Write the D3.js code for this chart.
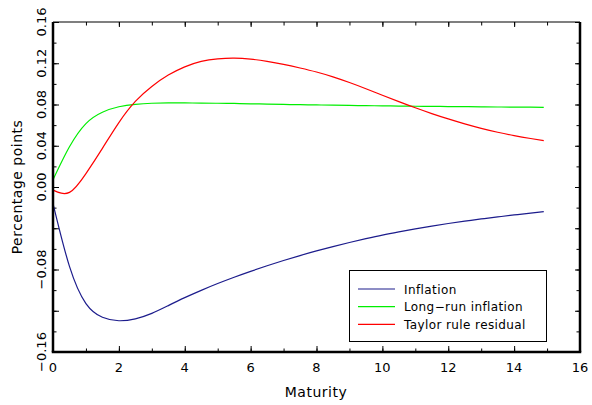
<!DOCTYPE html>
<html>
<head>
<meta charset="utf-8">
<script src="https://cdn.jsdelivr.net/npm/d3@7"></script>
<style>
  body { margin: 0; background: #fff; }
  svg { display: block; }
  text { font-family: "DejaVu Sans", sans-serif; fill: #000; }
</style>
</head>
<body>
<svg id="chart" width="592" height="405"></svg>
<script>
// data (maturity in years, values in percentage points)
const maturity = [0, 0.5, 1, 1.5, 2, 2.5, 3, 3.5, 4, 4.5, 5, 5.5, 6, 6.5, 7, 7.5, 8, 8.5, 9, 9.5,
  10, 10.5, 11, 11.5, 12, 12.5, 13, 13.5, 14, 14.5, 14.9];
const inflation = [-0.016, -0.077, -0.113, -0.1263, -0.1297, -0.1278, -0.1225, -0.1150, -0.1073, -0.1002,
  -0.0936, -0.0875, -0.0818, -0.0764, -0.0713, -0.0665, -0.0620, -0.0578, -0.0538, -0.0501,
  -0.0466, -0.0435, -0.0406, -0.0379, -0.0354, -0.0331, -0.0310, -0.0290, -0.0271, -0.0253, -0.0239];
const longRun = [0.007, 0.039, 0.0615, 0.0725, 0.0778, 0.0802, 0.0812, 0.0815, 0.0815, 0.0814,
  0.0812, 0.081, 0.0807, 0.0804, 0.0801, 0.0798, 0.0796, 0.0793, 0.0791, 0.0789,
  0.0787, 0.0785, 0.0783, 0.0782, 0.078, 0.0779, 0.0777, 0.0776, 0.0775, 0.0774, 0.0773];
const taylor = [-0.003, -0.0052, 0.013, 0.0375, 0.0625, 0.083, 0.0975, 0.1085, 0.1165, 0.1218,
  0.1243, 0.125, 0.124, 0.1218, 0.1189, 0.1154, 0.1115, 0.1068, 0.1013, 0.0953,
  0.089, 0.0828, 0.0768, 0.0712, 0.066, 0.0612, 0.0569, 0.0531, 0.0498, 0.047, 0.045];

const seriesNames = ["Inflation", "Long\u2212run inflation", "Taylor rule residual"];
const seriesColors = ["#1c1c8c", "#00ee00", "#ff0000"];
const xTicks = [0, 2, 4, 6, 8, 10, 12, 14, 16];
const yLabelTicks = [-0.16, -0.08, 0, 0.04, 0.08, 0.12, 0.16];

const svg = d3.select("#chart");
const L = 53, R = 580, T = 22, B = 352;

const x = d3.scaleLinear().domain([0, 16]).range([L, R]);
const y = d3.scaleLinear().domain([-0.16, 0.16]).range([B, T]);

// ticks (inward, on all four sides)
const xMinor = d3.range(0, 16.01, 1);
const yMinor = d3.range(-0.16, 0.1601, 0.02);
const yMajor = d3.range(-0.16, 0.1601, 0.04);

svg.append("g").attr("transform", `translate(0,${B})`)
  .call(d3.axisBottom(x).tickValues(xMinor).tickSize(-3.5).tickFormat(""));
svg.append("g").attr("transform", `translate(0,${B})`)
  .call(d3.axisBottom(x).tickValues(xTicks).tickSize(-6).tickFormat(""));
svg.append("g").attr("transform", `translate(0,${T})`)
  .call(d3.axisTop(x).tickValues(xMinor).tickSize(-3.5).tickFormat(""));
svg.append("g").attr("transform", `translate(0,${T})`)
  .call(d3.axisTop(x).tickValues(xTicks).tickSize(-5).tickFormat(""));
svg.append("g").attr("transform", `translate(${L},0)`)
  .call(d3.axisLeft(y).tickValues(yMinor).tickSize(-3.5).tickFormat(""));
svg.append("g").attr("transform", `translate(${L},0)`)
  .call(d3.axisLeft(y).tickValues(yMajor).tickSize(-6).tickFormat(""));
svg.append("g").attr("transform", `translate(${R},0)`)
  .call(d3.axisRight(y).tickValues(yMinor).tickSize(-3.5).tickFormat(""));
svg.append("g").attr("transform", `translate(${R},0)`)
  .call(d3.axisRight(y).tickValues(yMajor).tickSize(-5).tickFormat(""));
svg.selectAll(".domain").remove();
svg.selectAll(".tick line").attr("stroke", "#000").attr("stroke-width", 1);

// tick labels
svg.append("g").selectAll("text").data(xTicks).join("text")
  .attr("x", d => x(d)).attr("y", 372)
  .attr("text-anchor", "middle").attr("font-size", 13)
  .text(d => d);

const fmt = d3.format(".2f");
svg.append("g").selectAll("text").data(yLabelTicks).join("text")
  .attr("transform", d => `translate(46,${y(d)}) rotate(-90)`)
  .attr("text-anchor", "middle").attr("font-size", 13)
  .text(d => fmt(d));

svg.append("text").attr("x", 316).attr("y", 397)
  .attr("text-anchor", "middle").attr("font-size", 14)
  .attr("letter-spacing", 0.5).text("Maturity");
svg.append("text").attr("transform", `translate(22,${(T + B) / 2}) rotate(-90)`)
  .attr("text-anchor", "middle").attr("font-size", 14)
  .attr("letter-spacing", 0.5).text("Percentage points");

// curves
const line = d3.line().x(d => x(d[0])).y(d => y(d[1])).curve(d3.curveNatural);
[inflation, longRun, taylor].forEach((vals, i) => {
  svg.append("path")
    .datum(maturity.map((m, j) => [m, vals[j]]))
    .attr("fill", "none")
    .attr("stroke", seriesColors[i])
    .attr("stroke-width", 1.2)
    .attr("d", line);
});

// frame
svg.append("line").attr("x1", L).attr("x2", R).attr("y1", T).attr("y2", T)
  .attr("stroke", "#000").attr("stroke-width", 1.2);
svg.append("line").attr("x1", L).attr("x2", L).attr("y1", T).attr("y2", B)
  .attr("stroke", "#000").attr("stroke-width", 2.5);
svg.append("line").attr("x1", R).attr("x2", R).attr("y1", T).attr("y2", B)
  .attr("stroke", "#000").attr("stroke-width", 2.5);
svg.append("line").attr("x1", L - 1.25).attr("x2", R + 1.25).attr("y1", B).attr("y2", B)
  .attr("stroke", "#000").attr("stroke-width", 2.5);

// legend
const lg = svg.append("g");
lg.append("rect").attr("x", 349.5).attr("y", 270.5).attr("width", 197).attr("height", 71)
  .attr("fill", "#fff").attr("stroke", "#000").attr("stroke-width", 1);
seriesNames.forEach((name, i) => {
  const yy = 289 + i * 17.7;
  lg.append("line").attr("x1", 358).attr("x2", 395).attr("y1", yy).attr("y2", yy)
    .attr("stroke", seriesColors[i]).attr("stroke-width", 1.2);
  lg.append("text").attr("x", 404).attr("y", yy + 4.5).attr("font-size", 12)
    .attr("letter-spacing", 0.4).text(name);
});
</script>
</body>
</html>
